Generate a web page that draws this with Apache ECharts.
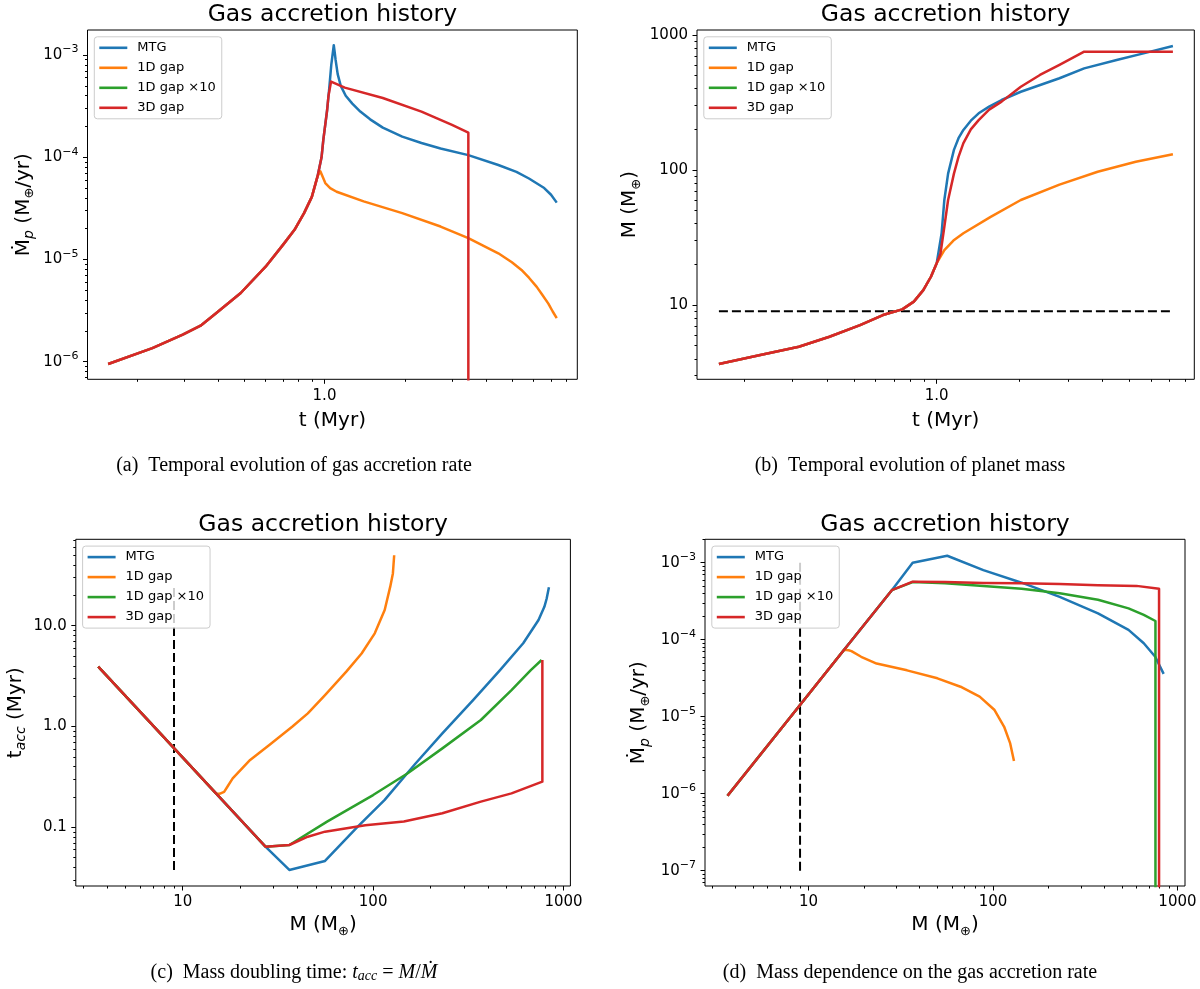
<!DOCTYPE html>
<html><head><meta charset="utf-8">
<script src="https://cdn.jsdelivr.net/npm/echarts@6/dist/echarts.min.js"></script>
<style>html,body{margin:0;padding:0;background:#fff}#c{width:1200px;height:989px}</style>
</head><body><div id="c"></div>
<script>
// ---------------- data ----------------
const NAMES  = ['MTG', '1D gap', '1D gap ×10', '3D gap'];
const COLORS = ['#1f77b4', '#ff7f0e', '#2ca02c', '#d62728'];

// tick labels
const aXTicks = [1],                      aXLabels = ['1.0'];
const aYTicks = [1e-6, 1e-5, 1e-4, 1e-3], aYLabels = ['10^−6', '10^−5', '10^−4', '10^−3'];
const bXTicks = [1],                      bXLabels = ['1.0'];
const bYTicks = [10, 100, 1000],          bYLabels = ['10', '100', '1000'];
const cXTicks = [10, 100, 1000],          cXLabels = ['10', '100', '1000'];
const cYTicks = [0.1, 1, 10],             cYLabels = ['0.1', '1.0', '10.0'];
const dXTicks = [10, 100, 1000],          dXLabels = ['10', '100', '1000'];
const dYTicks = [1e-7, 1e-6, 1e-5, 1e-4, 1e-3], dYLabels = ['10^−7', '10^−6', '10^−5', '10^−4', '10^−3'];

// (a) gas accretion rate vs time
const aEarlyT    = [0.156, 0.228, 0.296, 0.345, 0.395, 0.487, 0.603, 0.700, 0.773, 0.839, 0.897, 0.942];
const aEarlyMdot = [9.5e-7, 1.36e-6, 1.84e-6, 2.25e-6, 2.99e-6, 4.7e-6, 8.5e-6, 1.39e-5, 1.95e-5, 2.84e-5, 4.1e-5, 6.5e-5];
const aRiseT     = [0.975, 0.99, 1.023];
const aRiseMdot  = [1.0e-4, 1.48e-4, 2.9e-4];
const aMtgT      = [1.04, 1.06, 1.083, 1.09, 1.10, 1.12, 1.15, 1.20, 1.27, 1.36, 1.48, 1.65, 1.95, 2.3, 2.71, 3.44, 4.45, 5.2, 5.79, 6.6, 7.0, 7.35];
const aMtgMdot   = [4.5e-4, 8.0e-4, 1.25e-3, 1.1e-3, 9.0e-4, 6.5e-4, 5.0e-4, 4.0e-4, 3.35e-4, 2.8e-4, 2.35e-4, 1.95e-4, 1.59e-4, 1.38e-4, 1.22e-4, 1.05e-4, 8.4e-5, 7.2e-5, 6.2e-5, 5.0e-5, 4.3e-5, 3.6e-5];
const aGapT      = [0.965, 1.007, 1.05, 1.11, 1.40, 1.95, 2.71, 3.44, 4.45, 5.0, 5.43, 5.8, 6.19, 6.5, 6.84, 7.1, 7.35];
const aGapMdot   = [7.3e-5, 5.6e-5, 5.0e-5, 4.6e-5, 3.7e-5, 2.84e-5, 2.1e-5, 1.62e-5, 1.15e-5, 9.4e-6, 7.9e-6, 6.6e-6, 5.4e-6, 4.5e-6, 3.7e-6, 3.1e-6, 2.67e-6];
const a3dT       = [1.035, 1.058, 1.19, 1.65, 2.30, 2.99, 3.44, 3.44];
const a3dMdot    = [4.0e-4, 5.5e-4, 4.8e-4, 3.8e-4, 2.8e-4, 2.07e-4, 1.74e-4, 1e-9];

// (b) planet mass vs time
const bEarlyT = [0.162, 0.229, 0.316, 0.408, 0.527, 0.638, 0.750, 0.826, 0.894, 0.953, 1.0];
const bEarlyM = [3.66, 4.27, 4.91, 5.82, 7.1, 8.43, 9.29, 10.6, 12.9, 16.2, 20.4];
const bMtgT   = [1.042, 1.066, 1.10, 1.155, 1.20, 1.25, 1.33, 1.42, 1.55, 1.72, 2.02, 2.79, 3.43, 4.5, 5.63, 7.2];
const bMtgM   = [34, 60, 94, 141, 172, 198, 232, 263, 295, 330, 380, 478, 566, 653, 731, 829];
const bGapT   = [1.066, 1.15, 1.25, 1.57, 2.02, 2.79, 3.84, 5.28, 7.2];
const bGapM   = [25.5, 30, 34, 45, 60, 78, 97, 115, 131];
const b3dT    = [1.032, 1.066, 1.10, 1.155, 1.20, 1.25, 1.33, 1.42, 1.55, 1.72, 2.02, 2.37, 2.79, 3.43, 7.2];
const b3dM    = [24, 38, 60, 94, 125, 158, 200, 234, 280, 321, 414, 506, 600, 753, 753];
const bDashT  = [0.162, 7.2];
const bDashM  = [9, 9];

// (c) mass doubling time vs mass
const cLineM  = [3.6, 9.0, 15.0];
const cLineT  = [3.92, 0.61, 0.216];
const cMtgM   = [27.2, 36.3, 55.9, 83, 115, 167, 231, 335, 464, 614, 739, 793, 815, 838];
const cMtgT   = [0.0643, 0.0378, 0.0464, 0.1016, 0.187, 0.43, 0.855, 1.83, 3.63, 6.7, 11.4, 15.4, 18.5, 24];
const cGapM   = [15.6, 16.5, 17.1, 18.3, 22.6, 28.5, 37.7, 45.4, 55.9, 72.3, 87, 102, 115, 123, 127, 129];
const cGapT   = [0.215, 0.225, 0.25, 0.306, 0.466, 0.656, 1.0, 1.35, 2.05, 3.5, 5.3, 8.4, 14.3, 24.4, 33, 50];
const cG10M   = [27.2, 36.3, 57.3, 100, 152, 231, 368, 533, 673, 767];
const cG10T   = [0.0643, 0.0668, 0.114, 0.209, 0.344, 0.607, 1.16, 2.3, 3.63, 4.57];
const c3dM    = [27.2, 36.3, 45.4, 55.9, 91, 145, 231, 368, 533, 774, 774];
const c3dT    = [0.0643, 0.0668, 0.0807, 0.0906, 0.105, 0.114, 0.138, 0.18, 0.217, 0.284, 4.57];
const cDashM  = [9, 9];
const cDashT  = [0.0378, 24];

// (d) accretion rate vs mass
const dLineM    = [3.64, 9.0, 15.6];
const dLineMdot = [9.4e-7, 1.42e-5, 7.4e-5];
const dMtgM     = [28.3, 36.7, 56.5, 88.7, 143, 230, 371, 543, 657, 758, 842];
const dMtgMdot  = [4.4e-4, 1.0e-3, 1.23e-3, 8.0e-4, 5.5e-4, 3.6e-4, 2.2e-4, 1.34e-4, 9.0e-5, 6.0e-5, 3.6e-5];
const dGapM     = [16.5, 17.1, 19.3, 23.4, 34.2, 50, 66.7, 84.7, 102, 115, 124, 130];
const dGapMdot  = [7.3e-5, 7.1e-5, 6.0e-5, 4.9e-5, 4.0e-5, 3.15e-5, 2.45e-5, 1.82e-5, 1.22e-5, 7.4e-6, 4.5e-6, 2.65e-6];
const dG10M     = [28.3, 36.7, 55, 88.7, 143, 230, 371, 543, 657, 760, 760];
const dG10Mdot  = [4.4e-4, 5.6e-4, 5.4e-4, 5.0e-4, 4.6e-4, 4.0e-4, 3.3e-4, 2.55e-4, 2.1e-4, 1.75e-4, 1e-9];
const d3dM      = [28.3, 36.7, 55, 88.7, 143, 230, 371, 600, 795, 795];
const d3dMdot   = [4.4e-4, 5.67e-4, 5.6e-4, 5.45e-4, 5.4e-4, 5.3e-4, 5.1e-4, 5.0e-4, 4.6e-4, 1e-9];
const dDashM    = [9, 9];
const dDashMdot = [1e-7, 1e-3];

// ---------------- helpers ----------------
const FONT = 'DejaVu Sans';
const SERIF = 'Liberation Serif';
const pairs = (xs, ys) => xs.map((x, i) => [x, ys[i]]);
function minorTicks(lo, hi) {
  const out = [];
  for (let n = Math.floor(lo) - 1; n <= Math.ceil(hi); n++) {
    for (let k = 2; k <= 9; k++) {
      const v = n + Math.log10(k);
      if (v > lo && v < hi) out.push(v);
    }
  }
  return out;
}
function fmtLabel(s) {
  const p = s.split('^');
  return p.length === 2 ? '{n|' + p[0] + '}{s|' + p[1] + '}' : s;
}
function labelFor(v, ticks, labels) {
  for (let i = 0; i < ticks.length; i++) if (Math.abs(Math.log10(ticks[i]) - v) < 1e-6) return fmtLabel(labels[i]);
  return '';
}
const tickRich = {
  n: { fontFamily: FONT, fontSize: 15, lineHeight: 22, color: '#000' },
  s: { fontFamily: FONT, fontSize: 11, lineHeight: 11, verticalAlign: 'top', color: '#000' }
};
const nameStyle = {
  fontFamily: FONT, fontSize: 20, color: '#000', lineHeight: 26,
  rich: {
    sub: { fontFamily: FONT, fontSize: 14, fontStyle: 'italic', lineHeight: 14, verticalAlign: 'bottom', color: '#000' },
    op:  { fontFamily: FONT, fontSize: 13, lineHeight: 14, verticalAlign: 'bottom', color: '#000' }
  }
};

const PANELS = [
  { grid: { left: 87.5, top: 30, width: 489.8, height: 349.3 },
    xLim: [-0.884, 0.943], yLim: [-6.172, -2.755],
    xTicks: aXTicks, xLabels: aXLabels, yTicks: aYTicks, yLabels: aYLabels,
    xName: 't (Myr)', yName: 'Ṁ{sub|p} (M{op|⊕}/yr)', xNameGap: 28, yNameGap: 51,
    lines: [
      [0, aEarlyT.concat(aRiseT, aMtgT), aEarlyMdot.concat(aRiseMdot, aMtgMdot)],
      [1, aEarlyT.concat(aGapT), aEarlyMdot.concat(aGapMdot)],
      [3, aEarlyT.concat(aRiseT, a3dT), aEarlyMdot.concat(aRiseMdot, a3dMdot)]
    ], dash: null,
    title: [332.4, 15], caption: [294, 466, '(a)\u2002Temporal evolution of gas accretion rate'] },
  { grid: { left: 697, top: 30, width: 497.3, height: 349.3 },
    xLim: [-0.870, 0.935], yLim: [0.450, 3.037],
    xTicks: bXTicks, xLabels: bXLabels, yTicks: bYTicks, yLabels: bYLabels,
    xName: 't (Myr)', yName: 'M (M{op|⊕})', xNameGap: 28, yNameGap: 54,
    lines: [
      [0, bEarlyT.concat(bMtgT), bEarlyM.concat(bMtgM)],
      [1, bEarlyT.concat(bGapT), bEarlyM.concat(bGapM)],
      [3, bEarlyT.concat(b3dT), bEarlyM.concat(b3dM)]
    ], dash: [bDashT, bDashM],
    title: [945.6, 15], caption: [910, 466, '(b)\u2002Temporal evolution of planet mass'] },
  { grid: { left: 75.8, top: 539.3, width: 494.6, height: 346.7 },
    xLim: [0.4386, 3.036], yLim: [-1.582, 1.857],
    xTicks: cXTicks, xLabels: cXLabels, yTicks: cYTicks, yLabels: cYLabels,
    xName: 'M (M{op|⊕})', yName: 't{sub|acc} (Myr)', xNameGap: 26, yNameGap: 47,
    lines: [
      [0, cLineM.concat(cMtgM), cLineT.concat(cMtgT)],
      [1, cLineM.concat(cGapM), cLineT.concat(cGapT)],
      [2, cLineM.concat(cG10M), cLineT.concat(cG10T)],
      [3, cLineM.concat(c3dM), cLineT.concat(c3dT)]
    ], dash: [cDashM, cDashT],
    title: [323.1, 525], caption: [294, 973, '(c)\u2002Mass doubling time: {i|t}{isub|acc} = {i|M}/{i|Ṁ}'] },
  { grid: { left: 705, top: 539.3, width: 480, height: 346.7 },
    xLim: [0.439, 3.041], yLim: [-7.199, -2.696],
    xTicks: dXTicks, xLabels: dXLabels, yTicks: dYTicks, yLabels: dYLabels,
    xName: 'M (M{op|⊕})', yName: 'Ṁ{sub|p} (M{op|⊕}/yr)', xNameGap: 26, yNameGap: 53,
    lines: [
      [0, dLineM.concat(dMtgM), dLineMdot.concat(dMtgMdot)],
      [1, dLineM.concat(dGapM), dLineMdot.concat(dGapMdot)],
      [2, dLineM.concat(dG10M), dLineMdot.concat(dG10Mdot)],
      [3, dLineM.concat(d3dM), dLineMdot.concat(d3dMdot)]
    ], dash: [dDashM, dDashMdot],
    title: [945, 525], caption: [910, 973, '(d)\u2002Mass dependence on the gas accretion rate'] }
];

const grids = [], xAxes = [], yAxes = [], series = [], legends = [], titles = [];
const tickLine = { color: '#000', width: 1 };

PANELS.forEach((p, gi) => {
  grids.push(Object.assign({ show: true, borderColor: '#000', borderWidth: 1, backgroundColor: 'transparent',
    containLabel: false, outerBoundsMode: 'none' }, p.grid));
  const xi = xAxes.length, yi = yAxes.length;
  // main log axes (data mapping + axis titles)
  xAxes.push({ type: 'log', logBase: 10, gridIndex: gi, position: 'bottom',
    min: Math.pow(10, p.xLim[0]), max: Math.pow(10, p.xLim[1]),
    axisLine: { show: false, onZero: false }, axisTick: { show: false }, axisLabel: { show: false },
    splitLine: { show: false }, name: p.xName, nameLocation: 'middle', nameGap: p.xNameGap, nameTextStyle: nameStyle });
  yAxes.push({ type: 'log', logBase: 10, gridIndex: gi, position: 'left',
    min: Math.pow(10, p.yLim[0]), max: Math.pow(10, p.yLim[1]),
    axisLine: { show: false, onZero: false }, axisTick: { show: false }, axisLabel: { show: false },
    splitLine: { show: false }, name: p.yName, nameLocation: 'middle', nameGap: p.yNameGap, nameTextStyle: nameStyle });
  // major ticks and labels (log10 space)
  xAxes.push({ type: 'value', gridIndex: gi, position: 'bottom', min: p.xLim[0], max: p.xLim[1],
    axisLine: { show: false, onZero: false },
    axisTick: { show: true, length: 4.5, lineStyle: tickLine, customValues: p.xTicks.map(Math.log10) },
    axisLabel: { show: true, margin: 9, customValues: p.xTicks.map(Math.log10),
      formatter: v => labelFor(v, p.xTicks, p.xLabels), color: '#000', fontSize: 15, fontFamily: FONT, rich: tickRich },
    splitLine: { show: false } });
  yAxes.push({ type: 'value', gridIndex: gi, position: 'left', min: p.yLim[0], max: p.yLim[1],
    axisLine: { show: false, onZero: false },
    axisTick: { show: true, length: 4.5, lineStyle: tickLine, customValues: p.yTicks.map(Math.log10) },
    axisLabel: { show: true, margin: 9, customValues: p.yTicks.map(Math.log10),
      formatter: v => labelFor(v, p.yTicks, p.yLabels), color: '#000', fontSize: 15, fontFamily: FONT, rich: tickRich },
    splitLine: { show: false } });
  // minor ticks
  xAxes.push({ type: 'value', gridIndex: gi, position: 'bottom', min: p.xLim[0], max: p.xLim[1],
    axisLine: { show: false, onZero: false },
    axisTick: { show: true, length: 2.5, lineStyle: tickLine, customValues: minorTicks(p.xLim[0], p.xLim[1]) },
    axisLabel: { show: false }, splitLine: { show: false } });
  yAxes.push({ type: 'value', gridIndex: gi, position: 'left', min: p.yLim[0], max: p.yLim[1],
    axisLine: { show: false, onZero: false },
    axisTick: { show: true, length: 2.5, lineStyle: tickLine, customValues: minorTicks(p.yLim[0], p.yLim[1]) },
    axisLabel: { show: false }, splitLine: { show: false } });

  if (p.dash) {
    series.push({ type: 'line', name: 'threshold', xAxisIndex: xi, yAxisIndex: yi,
      data: pairs(p.dash[0], p.dash[1]), showSymbol: false, symbol: 'none',
      lineStyle: { color: '#000', width: 2, type: [9, 4] }, itemStyle: { color: '#000' },
      silent: true, animation: false, z: 1 });
  }
  p.lines.forEach(([si, xs, ys]) => {
    series.push({ type: 'line', name: NAMES[si], xAxisIndex: xi, yAxisIndex: yi,
      data: pairs(xs, ys), showSymbol: false, symbol: 'none', clip: true,
      lineStyle: { color: COLORS[si], width: 2.5, join: 'round' }, itemStyle: { color: COLORS[si] },
      animation: false, z: 2 + si });
  });

  legends.push({ orient: 'vertical', left: p.grid.left + 6.8, top: p.grid.top + 6.8, data: NAMES,
    icon: 'rect', itemWidth: 28, itemHeight: 2.6, itemGap: 6, padding: [4, 6, 4, 5],
    backgroundColor: 'rgba(255,255,255,0.8)', borderColor: '#cccccc', borderWidth: 1, borderRadius: 3,
    selectedMode: false, z: 10,
    textStyle: { fontFamily: FONT, fontSize: 13, lineHeight: 14, color: '#000', padding: [0, 0, 0, 5] } });

  titles.push({ text: 'Gas accretion history', left: p.title[0], top: p.title[1], textAlign: 'center',
    textVerticalAlign: 'middle', padding: 0,
    textStyle: { fontFamily: FONT, fontSize: 23.5, fontWeight: 'normal', color: '#000' } });
  titles.push({ text: p.caption[2], left: p.caption[0], top: p.caption[1], textAlign: 'center',
    textVerticalAlign: 'middle', padding: 0,
    textStyle: { fontFamily: SERIF, fontSize: 20, fontWeight: 'normal', color: '#000',
      rich: { i: { fontFamily: SERIF, fontSize: 20, fontStyle: 'italic', color: '#000' },
              isub: { fontFamily: SERIF, fontSize: 14, fontStyle: 'italic', verticalAlign: 'bottom', lineHeight: 14, color: '#000' } } } });
});

const chart = echarts.init(document.getElementById('c'), null, { renderer: 'canvas' });
chart.setOption({
  backgroundColor: '#ffffff',
  animation: false,
  title: titles,
  legend: legends,
  grid: grids,
  xAxis: xAxes,
  yAxis: yAxes,
  series: series
});
</script>
</body></html>
